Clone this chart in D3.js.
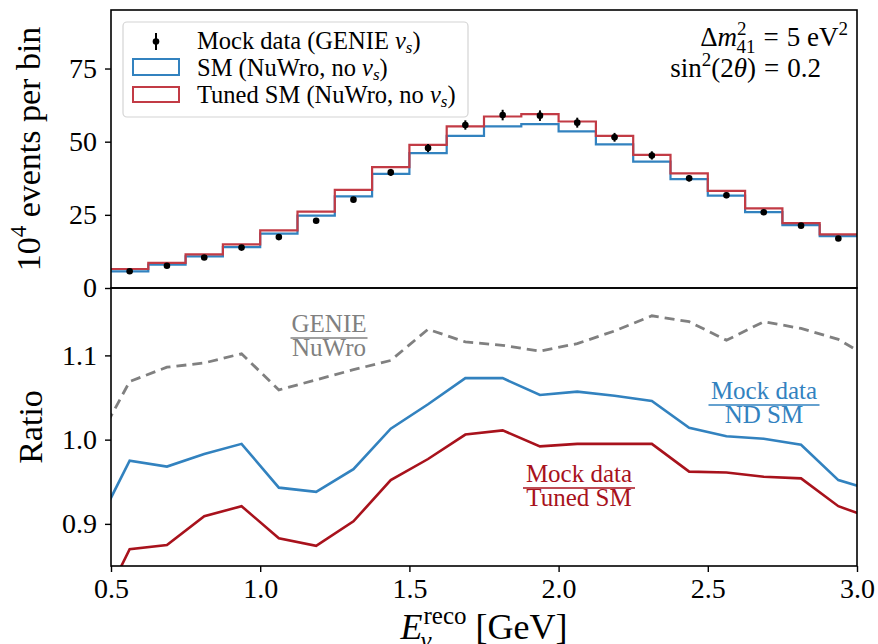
<!DOCTYPE html>
<html>
<head>
<meta charset="utf-8">
<script src="https://cdn.jsdelivr.net/npm/d3@7/dist/d3.min.js"></script>
<style>
body { margin: 0; background: #fff; }
text { font-family: "Liberation Serif", "DejaVu Serif", serif; }
</style>
</head>
<body>
<svg id="chart" width="878" height="644"></svg>
<script>
// bin edges in GeV (20 bins)
var binEdges = [0.5, 0.625, 0.75, 0.875, 1.0, 1.125, 1.25, 1.375, 1.5, 1.625, 1.75,
                1.875, 2.0, 2.125, 2.25, 2.375, 2.5, 2.625, 2.75, 2.875, 3.0];
var binCenters = [0.5625, 0.6875, 0.8125, 0.9375, 1.0625, 1.1875, 1.3125, 1.4375, 1.5625, 1.6875,
                  1.8125, 1.9375, 2.0625, 2.1875, 2.3125, 2.4375, 2.5625, 2.6875, 2.8125, 2.9375];

// top panel, 10^4 events per bin
var smCounts = [5.7, 8.0, 10.8, 14.0, 18.6, 24.7, 31.3, 39.0, 46.1, 52.0,
                55.2, 56.0, 53.5, 49.1, 43.2, 37.2, 31.6, 25.9, 21.5, 17.7];
var tunedCounts = [6.5, 8.6, 11.5, 14.9, 19.7, 26.1, 33.5, 41.3, 48.9, 55.2,
                   58.6, 59.4, 56.9, 52.0, 45.5, 39.2, 33.2, 27.2, 22.2, 18.3];
var mockCounts = [5.7, 7.6, 10.4, 13.8, 17.4, 23.0, 30.2, 39.5, 47.8, 55.7,
                  59.1, 58.9, 56.5, 51.5, 45.3, 37.5, 31.7, 25.9, 21.3, 16.9];
var mockErrors = [0.2, 0.25, 0.3, 0.4, 0.5, 0.7, 0.9, 1.2, 1.4, 1.6,
                  1.8, 1.8, 1.7, 1.5, 1.4, 1.1, 1.0, 0.8, 0.6, 0.5];

// bottom panel, ratios (one extra point each side, clipped by the frame)
var ratioX = [0.4375, 0.5625, 0.6875, 0.8125, 0.9375, 1.0625, 1.1875, 1.3125, 1.4375, 1.5625, 1.6875,
              1.8125, 1.9375, 2.0625, 2.1875, 2.3125, 2.4375, 2.5625, 2.6875, 2.8125, 2.9375, 3.0625];
var ratioGenie = [0.987, 1.069, 1.086, 1.091, 1.102, 1.059, 1.071, 1.083, 1.094, 1.131, 1.116,
                  1.112, 1.105, 1.114, 1.129, 1.147, 1.140, 1.118, 1.140, 1.132, 1.119, 1.093];
var ratioSM = [0.887, 0.975, 0.968, 0.983, 0.995, 0.943, 0.938, 0.965, 1.013, 1.042, 1.073,
               1.073, 1.053, 1.057, 1.052, 1.046, 1.014, 1.004, 1.001, 0.994, 0.952, 0.939];
var ratioTuned = [0.78, 0.870, 0.875, 0.909, 0.921, 0.883, 0.874, 0.903, 0.952, 0.977, 1.006,
                  1.011, 0.992, 0.995, 0.995, 0.995, 0.962, 0.961, 0.956, 0.954, 0.921, 0.905];

var xTicks = [0.5, 1.0, 1.5, 2.0, 2.5, 3.0];
var topTicks = [0, 25, 50, 75];
var bottomTicks = [0.9, 1.0, 1.1];

var blue = '#3282bf', red = '#c23b45', darkRed = '#a8121c', grey = '#808080';

var svg = d3.select('#chart');
var box = {left: 111, right: 857, top: 10, mid: 288, bottom: 566};

var x = d3.scaleLinear().domain([0.5, 3.0]).range([box.left, box.right]);
var yTop = d3.scaleLinear().domain([0, 95]).range([box.mid, box.top]);
var yBot = d3.scaleLinear().domain([0.85, 1.18]).range([box.bottom, box.mid]);

var defs = svg.append('defs');
defs.append('clipPath').attr('id', 'clipTop')
  .append('rect').attr('x', box.left).attr('y', box.top)
  .attr('width', box.right - box.left).attr('height', box.mid - box.top);
defs.append('clipPath').attr('id', 'clipBot')
  .append('rect').attr('x', box.left).attr('y', box.mid)
  .attr('width', box.right - box.left).attr('height', box.bottom - box.mid);

// ---------- top panel ----------
var gTop = svg.append('g').attr('clip-path', 'url(#clipTop)');

function stepPoints(vals) {
    var pts = [];
    vals.forEach(function(v, i) {
        pts.push([binEdges[i], v]);
        pts.push([binEdges[i + 1], v]);
    });
    return pts;
}
var stepLine = d3.line().x(function(d) { return x(d[0]); }).y(function(d) { return yTop(d[1]); });

gTop.append('path').attr('d', stepLine(stepPoints(smCounts)))
    .attr('fill', 'none').attr('stroke', blue).attr('stroke-width', 2.2);
gTop.append('path').attr('d', stepLine(stepPoints(tunedCounts)))
    .attr('fill', 'none').attr('stroke', red).attr('stroke-width', 2.2);

var pts = gTop.selectAll('.mock').data(mockCounts).enter().append('g').attr('class', 'mock');
pts.append('line')
    .attr('x1', function(d, i) { return x(binCenters[i]); })
    .attr('x2', function(d, i) { return x(binCenters[i]); })
    .attr('y1', function(d, i) { return yTop(d - mockErrors[i]); })
    .attr('y2', function(d, i) { return yTop(d + mockErrors[i]); })
    .attr('stroke', '#000').attr('stroke-width', 2);
pts.append('circle')
    .attr('cx', function(d, i) { return x(binCenters[i]); })
    .attr('cy', function(d) { return yTop(d); })
    .attr('r', 3.3).attr('fill', '#000');

svg.append('g').attr('class', 'axis')
    .attr('transform', 'translate(' + box.left + ',0)')
    .call(d3.axisLeft(yTop).tickValues(topTicks).tickSize(6).tickPadding(8));

// ---------- bottom panel ----------
var gBot = svg.append('g').attr('clip-path', 'url(#clipBot)');
var ratioLine = function(vals) {
    return d3.line().x(function(d, i) { return x(ratioX[i]); }).y(function(d) { return yBot(d); })(vals);
};
gBot.append('path').attr('d', ratioLine(ratioGenie))
    .attr('fill', 'none').attr('stroke', grey).attr('stroke-width', 2.8).attr('stroke-dasharray', '10,6');
gBot.append('path').attr('d', ratioLine(ratioSM))
    .attr('fill', 'none').attr('stroke', blue).attr('stroke-width', 2.6);
gBot.append('path').attr('d', ratioLine(ratioTuned))
    .attr('fill', 'none').attr('stroke', darkRed).attr('stroke-width', 2.6);

svg.append('g').attr('class', 'axis')
    .attr('transform', 'translate(' + box.left + ',0)')
    .call(d3.axisLeft(yBot).tickValues(bottomTicks).tickFormat(d3.format('.1f')).tickSize(6).tickPadding(8));

svg.append('g').attr('class', 'axis')
    .attr('transform', 'translate(0,' + box.bottom + ')')
    .call(d3.axisBottom(x).tickValues(xTicks).tickFormat(d3.format('.1f')).tickSize(6).tickPadding(6));

svg.selectAll('.axis .domain').remove();
svg.selectAll('.axis line').attr('stroke', '#000').attr('stroke-width', 1.4);
svg.selectAll('.axis text').attr('font-size', 28).attr('fill', '#000')
    .style('font-family', '"Liberation Serif", serif');

// frames
svg.append('rect').attr('x', box.left).attr('y', box.top)
    .attr('width', box.right - box.left).attr('height', box.mid - box.top)
    .attr('fill', 'none').attr('stroke', '#000').attr('stroke-width', 1.6);
svg.append('rect').attr('x', box.left).attr('y', box.mid)
    .attr('width', box.right - box.left).attr('height', box.bottom - box.mid)
    .attr('fill', 'none').attr('stroke', '#000').attr('stroke-width', 1.6);

// ---------- axis labels ----------
var yl = svg.append('text').attr('transform', 'translate(40,' + (box.top + box.mid) / 2 + ') rotate(-90)')
    .attr('text-anchor', 'middle').attr('font-size', 34);
yl.append('tspan').text('10');
yl.append('tspan').text('4').attr('font-size', 23).attr('dy', -14);
yl.append('tspan').text(' events per bin').attr('dy', 14);

svg.append('text').attr('transform', 'translate(42,' + (box.mid + box.bottom) / 2 + ') rotate(-90)')
    .attr('text-anchor', 'middle').attr('font-size', 34).text('Ratio');

var xl = svg.append('g');
var xE = xl.append('text').attr('x', 0).attr('y', 0).attr('font-size', 36).attr('font-style', 'italic').text('E');
var eW = xE.node().getComputedTextLength();
var xSup = xl.append('text').attr('x', eW + 1).attr('y', -15).attr('font-size', 25).text('reco');
var supW = xSup.node().getComputedTextLength();
xl.append('text').attr('x', eW - 2).attr('y', 10).attr('font-size', 25).attr('font-style', 'italic').text('ν');
var xGeV = xl.append('text').attr('x', eW + supW + 10).attr('y', 0).attr('font-size', 36).text('[GeV]');
var totalW = eW + supW + 10 + xGeV.node().getComputedTextLength();
xl.attr('transform', 'translate(' + ((box.left + box.right) / 2 - totalW / 2) + ',639)');

// ---------- legend ----------
var lg = svg.append('g');
lg.append('rect').attr('x', 123).attr('y', 22).attr('width', 345).attr('height', 95).attr('rx', 4)
    .attr('fill', '#fff').attr('fill-opacity', 0.85).attr('stroke', '#d4d4d4').attr('stroke-width', 1.2);
lg.append('line').attr('x1', 156).attr('x2', 156).attr('y1', 33).attr('y2', 50)
    .attr('stroke', '#000').attr('stroke-width', 2);
lg.append('circle').attr('cx', 156).attr('cy', 41.5).attr('r', 3.3).attr('fill', '#000');
lg.append('rect').attr('x', 133).attr('y', 59).attr('width', 46).attr('height', 16)
    .attr('fill', 'none').attr('stroke', blue).attr('stroke-width', 2);
lg.append('rect').attr('x', 133).attr('y', 87).attr('width', 46).attr('height', 15)
    .attr('fill', 'none').attr('stroke', red).attr('stroke-width', 2);

function nuText(g, y, before, after) {
    var t = g.append('text').attr('x', 197).attr('y', y).attr('font-size', 24.5);
    t.append('tspan').text(before);
    t.append('tspan').text('ν').attr('font-style', 'italic');
    t.append('tspan').text('s').attr('font-style', 'italic').attr('font-size', 17).attr('dy', 4);
    t.append('tspan').text(after).attr('dy', -4);
}
nuText(lg, 49, 'Mock data (GENIE ', ')');
nuText(lg, 76, 'SM (NuWro, no ', ')');
nuText(lg, 103, 'Tuned SM (NuWro, no ', ')');

// ---------- oscillation parameters ----------
var p1 = svg.append('text').attr('x', 848).attr('y', 46).attr('text-anchor', 'end').attr('font-size', 27);
p1.append('tspan').text('Δ');
p1.append('tspan').text('m').attr('font-style', 'italic');
p1.append('tspan').text('2').attr('font-size', 19).attr('dy', -11);
p1.append('tspan').text('41').attr('font-size', 19).attr('dx', -10).attr('dy', 18);
p1.append('tspan').text('=').attr('dx', 8).attr('dy', -7);
p1.append('tspan').text('5 eV').attr('dx', 8);
p1.append('tspan').text('2').attr('font-size', 19).attr('dy', -11);

var p2 = svg.append('text').attr('x', 821).attr('y', 77).attr('text-anchor', 'end').attr('font-size', 27);
p2.append('tspan').text('sin');
p2.append('tspan').text('2').attr('font-size', 19).attr('dy', -11);
p2.append('tspan').text('(2').attr('dy', 11);
p2.append('tspan').text('θ').attr('font-style', 'italic');
p2.append('tspan').text(')');
p2.append('tspan').text('=').attr('dx', 8);
p2.append('tspan').text('0.2').attr('dx', 8);

// ---------- ratio annotations ----------
function fraction(cx, y, num, den, colour, lineW) {
    var g = svg.append('g').attr('fill', colour);
    g.append('text').attr('x', cx).attr('y', y).attr('text-anchor', 'middle').attr('font-size', 25).text(num);
    g.append('line').attr('x1', cx - lineW / 2).attr('x2', cx + lineW / 2).attr('y1', y + 6).attr('y2', y + 6)
        .attr('stroke', colour).attr('stroke-width', 1.3);
    g.append('text').attr('x', cx).attr('y', y + 24).attr('text-anchor', 'middle').attr('font-size', 25).text(den);
}
fraction(329, 332, 'GENIE', 'NuWro', grey, 77);
fraction(764, 399, 'Mock data', 'ND SM', blue, 111);
fraction(579, 482, 'Mock data', 'Tuned SM', darkRed, 112);
</script>
</body>
</html>
